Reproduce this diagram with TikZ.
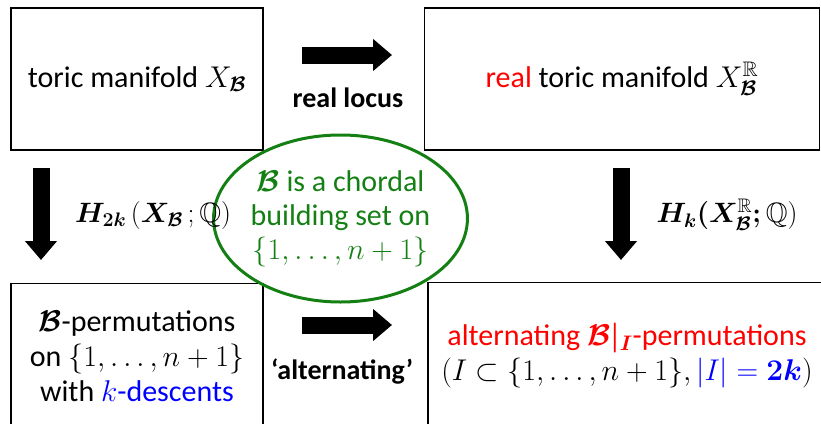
\RequirePackage{fix-cm}
\documentclass[tikz,border=0pt]{standalone}
\usepackage{amsmath,amssymb}
\usepackage{fontspec}
\setmainfont{Carlito}
\usepackage{bm}
\usetikzlibrary{arrows.meta,positioning,shapes.geometric}
\definecolor{chordgreen}{RGB}{20,128,20}
\definecolor{realred}{RGB}{255,0,0}
\definecolor{descblue}{RGB}{0,0,255}
\newcommand{\cB}{\bm{\mathcal{B}}}

\begin{document}
\begin{tikzpicture}[x=1pt,y=-1pt,
  box/.style={draw, line width=1.4pt, minimum height=142pt, align=center,
              inner sep=0pt, font=\fontsize{30}{35}\selectfont},
  fatarrow/.style={line width=17pt, -{Triangle[length=19pt,width=31pt]}},
  lbl/.style={font=\fontsize{28}{32}\selectfont\bfseries}]
\useasboundingbox (0,0) rectangle (821,423);

\node[box, minimum width=252pt] (torus) at (137,79) {toric manifold $X_{\cB}$};
\node[box, minimum width=395pt, right=160pt of torus] (realtor)
  {{\color{realred}real} toric manifold $X_{\cB}^{\mathbb{R}}$};
\node[box, minimum width=252pt, minimum height=146pt, below=132pt of torus] (bperm)
  {$\cB$-permutations\\ on $\{1,\ldots,n+1\}$\\ with {\color{descblue}$k$-descents}};
\node[box, minimum width=398pt, minimum height=146pt] (altperm) at (627,355.5)
  {{\color{realred}alternating $\bm{\mathcal{B}|_I}$-permutations}\\
   $(I\subset\{1,\ldots,n+1\},{\color{descblue}|I|=\bm{2k}})$};

\node[ellipse, draw=chordgreen, line width=3pt, minimum width=205pt,
      minimum height=167pt, inner sep=0pt, align=center, text=chordgreen,
      font=\fontsize{30}{34}\selectfont] (chordal) at (340.5,218.5)
  {$\cB$ is a chordal\\ building set on\\ $\{1,\ldots,n+1\}$};

% block arrows
\coordinate (topA) at (302,55);  \coordinate (topB) at (392,55);
\coordinate (botA) at (302,325); \coordinate (botB) at (392,325);
\coordinate (leftA) at (41,168);  \coordinate (leftB) at (41,260);
\coordinate (rightA) at (621,168); \coordinate (rightB) at (621,260);
\draw[fatarrow] (topA) -- (topB);
\draw[fatarrow] (botA) -- (botB);
\draw[fatarrow] (leftA) -- (leftB);
\draw[fatarrow] (rightA) -- (rightB);

\node[lbl] (locus) at (348,98) {real locus};
\node[lbl] (alt) at (342,372) {‘alternating’};
\node[lbl] (homleft) at (153,215) {$\bm{H_{2k}}\,(\bm{X_{\mathcal{B}}}\,;\mathbb{Q})$};
\node[lbl] (homright) at (727,215) {$\bm{H_k(X^{\mathbb{R}}_{\mathcal{B}};}\mathbb{Q})$};
\end{tikzpicture}
\end{document}
